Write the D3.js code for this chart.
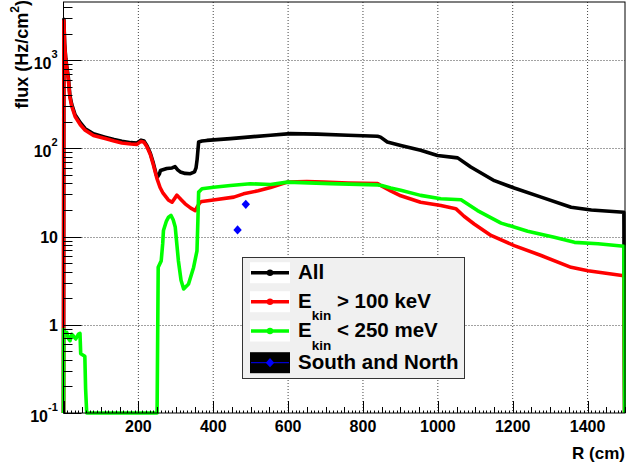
<!DOCTYPE html>
<html><head><meta charset="utf-8">
<script src="https://cdn.jsdelivr.net/npm/d3@7"></script>
<style>
body{margin:0;background:#fff}
svg{display:block}
text{font-family:"Liberation Sans",Arial,Helvetica,sans-serif;font-weight:bold;fill:#000}
</style>
</head><body>
<svg id="chart" width="626" height="470"></svg>
<script>
// ---- data (R in cm, flux in Hz/cm^2) ----
const allFlux = [[0,0.1],[1,2900],[3,1560],[6,1050],[9,830],[13,630],[17,400],[22,315],[31,240],[45,195],[58,167],[80,146],[111,134],[135,126],[156,120],[180,116],[196,115],[207,124],[215,121],[223,107],[232,88],[240,68],[248,50],[252,48],[256,51],[259,56],[276,59],[290,60],[298,62],[305,57],[312,54],[325,52],[339,51.6],[350,54],[354,60],[357,75],[361,118],[370,121],[383,123],[446,129],[500,135],[553,141],[606,147],[678,145],[760,141],[839,137],[847,134],[865,118],[901,108],[954,95],[999,83],[1053,78],[1088,61.5],[1151,43],[1204,35.5],[1276,28],[1356,21.5],[1410,20],[1497,18.9],[1499,0.1]];
const fastFlux = [[0,0.1],[1,2800],[3,1500],[6,1000],[9,800],[13,600],[17,380],[22,300],[31,230],[45,185],[58,160],[80,140],[111,129],[135,121],[156,115],[180,112],[196,111],[207,120],[215,117],[223,104],[232,85],[240,65],[250,45],[258,36],[266,31],[280,26],[290,24.5],[303,29.5],[315,26],[325,23.5],[340,21],[352,19.7],[358,22],[365,24.5],[370,25],[400,26],[455,28],[481,30.5],[520,33],[553,36],[598,41.4],[650,42],[695,41.4],[760,40.5],[839,39.8],[847,38],[874,33],[901,29],[954,24.5],[1008,22.5],[1048,20.7],[1070,17],[1097,13.9],[1142,10.3],[1204,7.9],[1276,6.1],[1356,4.48],[1401,4.1],[1497,3.6],[1499,0.1]];
const thermalFlux = [[0,0.1],[0.5,0.89],[4,0.8],[8.6,0.82],[13,0.7],[17.4,0.66],[22,0.78],[26,0.75],[32.7,0.69],[39.6,0.78],[44,0.8],[46,0.47],[57,0.44],[59,0.19],[62,0.1],[250,0.1],[253,4.5],[261,5.3],[265,8.3],[267,11.7],[275,15],[280.6,16.6],[287,17.4],[293,15.5],[298.5,12.8],[303,8],[307,5.3],[314,3.2],[321,2.55],[334,2.9],[347.5,4.47],[356.6,6.9],[359,15.2],[361,31.9],[370,34.8],[401,36.3],[446,38],[499,39.7],[553,39],[598,41.4],[713,39.8],[839,38.5],[850,38],[874,35.5],[901,33.5],[954,29.3],[1008,26.8],[1062,26.1],[1106,19.7],[1169,14.2],[1240,11.5],[1311,9.8],[1365,8.6],[1428,8.3],[1497,7.77],[1499,0.1]];
const southNorth = [[465,11.9],[487,23.2]];
const xTickLabels = [200,400,600,800,1000,1200,1400];
const yDecades = [0.1,1,10,100,1000];
const yLabelBase = ["10","1","10","10","10"];
const yLabelExp = ["-1","","","2","3"];
const legendNames = ["All","E>100","E<250","South and North"];
const seriesColors = ["#000000","#ff0000","#00ff00","#0000ff"];

// ---- layout ----
const L = 63.5, R = 625, T = 2, B = 413;
const svg = d3.select("#chart");
const x = d3.scaleLinear().domain([0,1500]).range([L,R]);
const y = d3.scaleLog().domain([0.1,4560]).range([B,T]);

// grid
const g = svg.append("g");
g.selectAll("line.gx").data(xTickLabels).join("line")
  .attr("x1",d=>x(d)).attr("x2",d=>x(d)).attr("y1",T).attr("y2",B)
  .attr("stroke","#444").attr("stroke-width",1).attr("stroke-dasharray","1,2");
g.selectAll("line.gy").data(yDecades.slice(1)).join("line")
  .attr("x1",L).attr("x2",R).attr("y1",d=>Math.round(y(d))+0.5).attr("y2",d=>Math.round(y(d))+0.5)
  .attr("stroke","#444").attr("stroke-width",1).attr("stroke-dasharray","1,2");

// curves
const line = d3.line().x(d=>x(d[0])).y(d=>y(d[1]));
[allFlux, fastFlux, thermalFlux].forEach((s,i)=>{
  svg.append("path").datum(s).attr("d",line).attr("fill","none")
    .attr("stroke",seriesColors[i]).attr("stroke-width",3.6)
    .attr("stroke-linejoin","round").attr("stroke-linecap","butt");
});
const diamond = "M0,-4.6L4.2,0L0,4.6L-4.2,0Z";
svg.selectAll("path.pt").data(southNorth).join("path")
  .attr("d",diamond).attr("fill","#0000ff")
  .attr("transform",d=>`translate(${x(d[0])},${y(d[1])})`);

// frame
svg.append("rect").attr("x",L).attr("y",T).attr("width",R-L).attr("height",B-T)
  .attr("fill","none").attr("stroke","#000").attr("stroke-width",1);

// x ticks
const ax = svg.append("g").attr("stroke","#000").attr("stroke-width",1);
d3.range(0,1501,10).forEach(v=>{
  let len = (v%200===0)?12:(v%50===0?6:2.5);
  ax.append("line").attr("x1",Math.round(x(v))+0.5).attr("x2",Math.round(x(v))+0.5)
    .attr("y1",B).attr("y2",B-len);
});
svg.selectAll("text.xl").data(xTickLabels).join("text")
  .attr("x",d=>x(d)).attr("y",432).attr("text-anchor","middle")
  .attr("font-size",16).text(d=>d);
svg.append("text").attr("x",625).attr("y",459).attr("text-anchor","end")
  .attr("font-size",17).text("R (cm)");

// y ticks
const ay = svg.append("g").attr("stroke","#000").attr("stroke-width",1);
yDecades.forEach(d=>{
  ay.append("line").attr("x1",L).attr("x2",L+18).attr("y1",Math.round(y(d))+0.5).attr("y2",Math.round(y(d))+0.5);
  for(let k=2;k<=9;k++){
    const v=d*k; if(v>4560) break;
    ay.append("line").attr("x1",L).attr("x2",L+9).attr("y1",Math.round(y(v))+0.5).attr("y2",Math.round(y(v))+0.5);
  }
});
yDecades.forEach((d,i)=>{
  const ty = y(d);
  const t = svg.append("text").attr("text-anchor","end").attr("font-size",16);
  if(yLabelExp[i]===""){
    t.attr("x",58).attr("y",ty+6).text(yLabelBase[i]);
  } else {
    const expW = yLabelExp[i].length===2 ? 10 : 6.5;
    t.attr("x",58-expW).attr("y",ty+8.5).text(yLabelBase[i]);
    svg.append("text").attr("x",58-expW).attr("y",ty-2.5).attr("font-size",11).text(yLabelExp[i]);
  }
});
// y title
svg.append("text").attr("transform","translate(28,0) rotate(-90)")
  .attr("text-anchor","end").attr("font-size",18)
  .html('flux (Hz/cm<tspan font-size="12" dy="-9">2</tspan><tspan dy="9">)</tspan>');

// legend
const lg = svg.append("g");
lg.append("rect").attr("x",242.5).attr("y",257.5).attr("width",222).attr("height",121)
  .attr("fill","#f0f0f0").attr("stroke","#333").attr("stroke-width",1);
const rowY = [272.7,301.7,331,362.7];
legendNames.forEach((n,i)=>{
  const cy = rowY[i];
  lg.append("rect").attr("x",250).attr("y",cy-10.5).attr("width",40).attr("height",21)
    .attr("fill", i===3 ? "#000" : "#fff");
  if(i<3){
    lg.append("line").attr("x1",251).attr("x2",289).attr("y1",cy).attr("y2",cy)
      .attr("stroke",seriesColors[i]).attr("stroke-width",3.4);
    lg.append("circle").attr("cx",270).attr("cy",cy).attr("r",3.2).attr("fill",seriesColors[i]);
  } else {
    lg.append("line").attr("x1",251).attr("x2",289).attr("y1",cy).attr("y2",cy)
      .attr("stroke",seriesColors[3]).attr("stroke-width",1);
    lg.append("path").attr("d",diamond).attr("fill",seriesColors[3]).attr("transform",`translate(270,${cy})`);
  }
  const t = lg.append("text").attr("x",298).attr("y",cy+6).attr("font-size",20.5);
  if(n==="E>100"){
    t.html('E<tspan font-size="13.5" dy="12.5">kin</tspan><tspan dy="-12.5"> &gt; 100 keV</tspan>');
  } else if(n==="E<250"){
    t.html('E<tspan font-size="13.5" dy="12.5">kin</tspan><tspan dy="-12.5"> &lt; 250 meV</tspan>');
  } else t.text(n);
});
</script>
</body></html>
